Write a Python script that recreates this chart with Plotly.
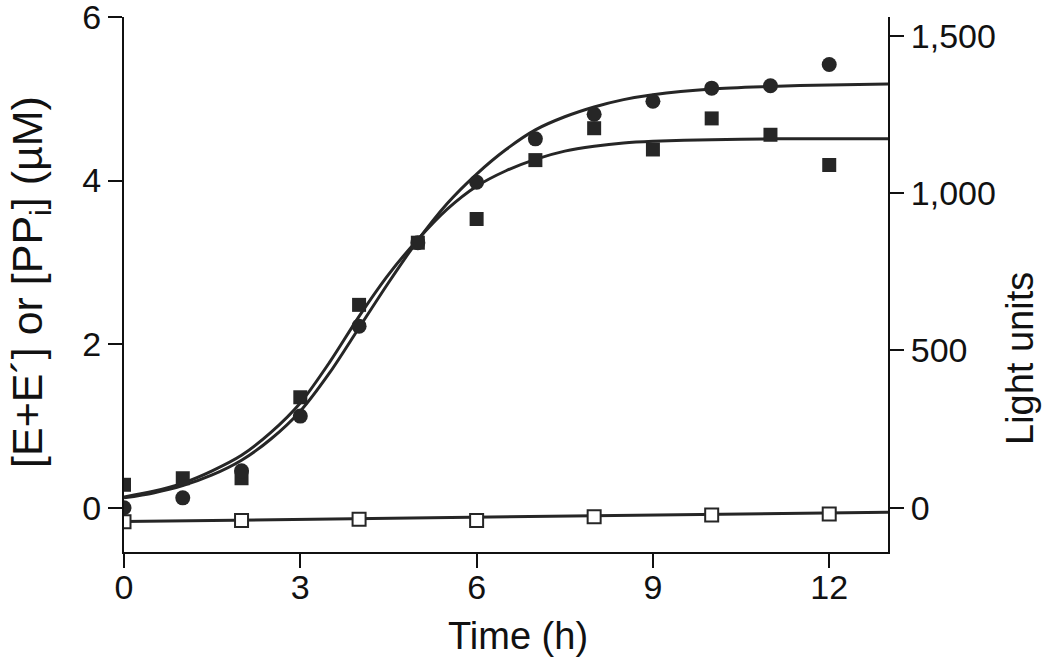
import plotly.graph_objects as go

time_h = [0, 1, 2, 3, 4, 5, 6, 7, 8, 9, 10, 11, 12]
ee_circles = [0.0, 0.12, 0.45, 1.12, 2.22, 3.24, 3.98, 4.51, 4.81, 4.97, 5.13, 5.16, 5.42]
ppi_squares = [0.28, 0.36, 0.36, 1.35, 2.48, 3.24, 3.53, 4.25, 4.64, 4.38, 4.76, 4.56, 4.19]

# Fitted curves
fit_time = [0, 0.5, 1, 1.5, 2, 2.5, 3, 3.5, 4, 4.5, 5, 5.5, 6, 6.5, 7, 7.5, 8, 8.5, 9, 10, 11, 12, 13]
fit_circles = [0.12, 0.18, 0.27, 0.40, 0.58, 0.84, 1.18, 1.65, 2.20, 2.75, 3.27, 3.72, 4.08, 4.38,
               4.62, 4.78, 4.90, 4.99, 5.05, 5.12, 5.15, 5.17, 5.18]
fit_squares = [0.13, 0.20, 0.30, 0.45, 0.64, 0.92, 1.28, 1.78, 2.34, 2.85, 3.28, 3.65, 3.93, 4.12,
               4.26, 4.36, 4.42, 4.46, 4.48, 4.50, 4.51, 4.51, 4.51]

# Light units (right axis)
light_time = [0, 2, 4, 6, 8, 10, 12]
light_units = [-45, -41, -37, -41, -29, -23, -20]
light_fit_time = [0, 13]
light_fit = [-44, -14.6]

left_ticks = [0, 2, 4, 6]
right_ticks = [0, 500, 1000, 1500]
x_ticks = [0, 3, 6, 9, 12]

x_title = "Time (h)"
left_title = "[E+E\u00b4] or [PP<sub>i</sub>] (\u00b5M)"
right_title = "Light units"

INK = "#262626"
FONT = "Liberation Sans, Arial, sans-serif"
TICK_SIZE = 34

fig = go.Figure()
fig.add_trace(go.Scatter(x=fit_time, y=fit_circles, mode="lines",
                         line=dict(color=INK, width=3, shape="spline", smoothing=0.8), showlegend=False))
fig.add_trace(go.Scatter(x=fit_time, y=fit_squares, mode="lines",
                         line=dict(color=INK, width=3, shape="spline", smoothing=0.8), showlegend=False))
fig.add_trace(go.Scatter(x=time_h, y=ppi_squares, mode="markers",
                         marker=dict(symbol="square", size=14, color=INK), showlegend=False))
fig.add_trace(go.Scatter(x=time_h, y=ee_circles, mode="markers",
                         marker=dict(symbol="circle", size=15, color=INK), showlegend=False))
fig.add_trace(go.Scatter(x=light_fit_time, y=light_fit, mode="lines", yaxis="y2",
                         line=dict(color=INK, width=3), showlegend=False))
fig.add_trace(go.Scatter(x=light_time, y=light_units, mode="markers", yaxis="y2",
                         marker=dict(symbol="square", size=13, color="white",
                                     line=dict(color=INK, width=2)), showlegend=False))

axis_common = dict(showline=True, linecolor="#111", linewidth=2, ticks="outside", ticklen=14,
                   tickwidth=2, tickcolor="#111", showgrid=False, zeroline=False,
                   automargin=False, ticklabeloverflow="allow", tickfont=dict(size=TICK_SIZE))

fig.update_layout(
    width=1050, height=669,
    margin=dict(l=124, r=162, t=17, b=117),
    plot_bgcolor="white", paper_bgcolor="white",
    font=dict(family=FONT, size=TICK_SIZE, color="#111"),
    xaxis=dict(range=[0, 13], tickvals=x_ticks, ticklabelstandoff=-10, **axis_common),
    yaxis=dict(range=[-0.542, 6], tickvals=left_ticks, **axis_common),
    yaxis2=dict(range=[-140.9, 1559.8], tickvals=right_ticks, tickformat=",d", overlaying="y",
                side="right", **axis_common),
    annotations=[
        dict(text=x_title, xref="paper", yref="paper", x=(518 - 124) / 764, y=(552 - 636) / 535,
             xanchor="center", yanchor="middle", showarrow=False, font=dict(size=38)),
        dict(text=left_title, xref="paper", yref="paper", x=(30 - 124) / 764, y=(552 - 282) / 535,
             textangle=-90, xanchor="center", yanchor="middle", showarrow=False, font=dict(size=43)),
        dict(text=right_title, xref="paper", yref="paper", x=(1020 - 124) / 764, y=(552 - 358) / 535,
             textangle=-90, xanchor="center", yanchor="middle", showarrow=False, font=dict(size=38)),
    ],
)

fig.write_html("out.html", config={"displayModeBar": False},
               post_script="document.body.style.margin='0';")
